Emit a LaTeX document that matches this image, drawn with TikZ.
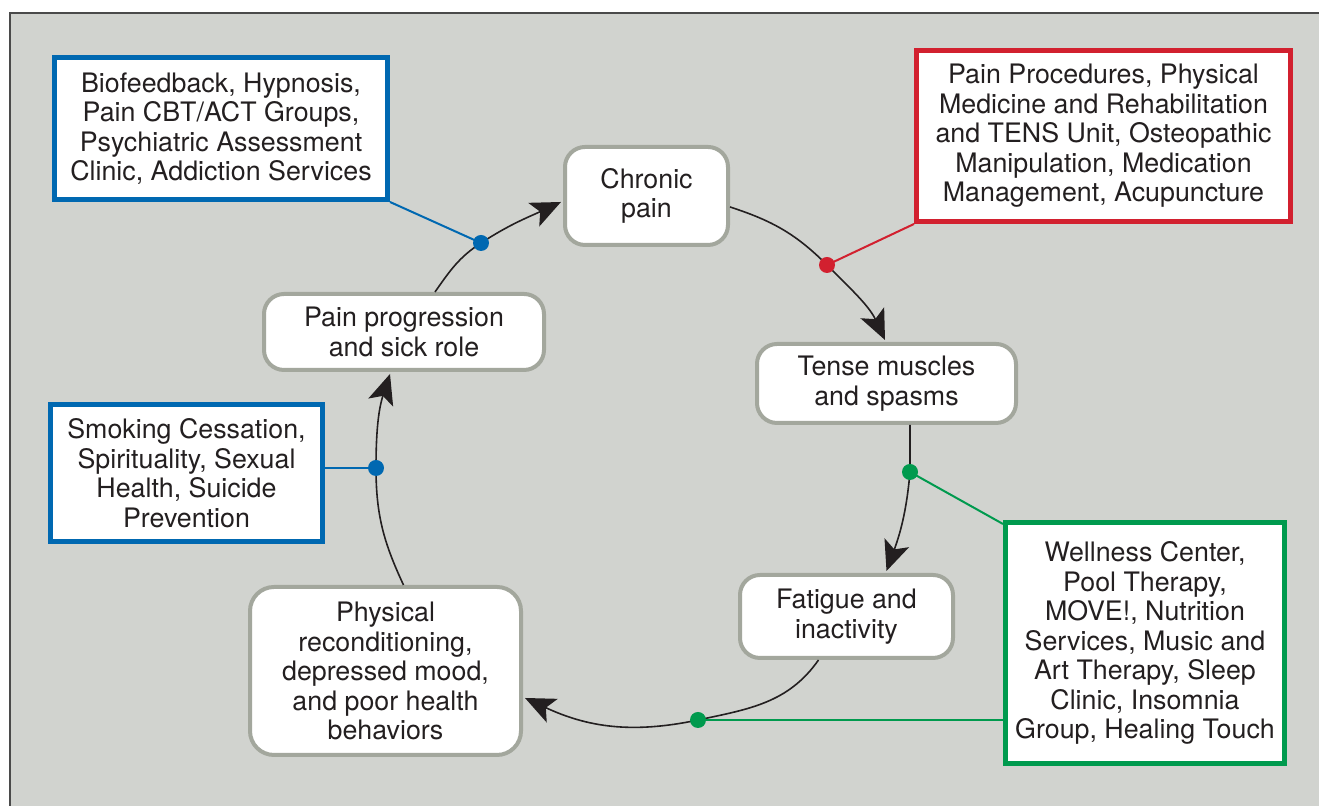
\documentclass[tikz,border=0pt]{standalone}
\usepackage{fontspec}
\setmainfont{TeX Gyre Heros}
\usetikzlibrary{arrows.meta,calc}
\definecolor{bg}{HTML}{D1D3CF}
\definecolor{bord}{HTML}{A3A79D}
\definecolor{frameline}{HTML}{4A4A4A}
\definecolor{vablue}{HTML}{0068B1}
\definecolor{vared}{HTML}{D2202F}
\definecolor{vagreen}{HTML}{009A4E}
\definecolor{ink}{HTML}{231F20}
\begin{document}
\begin{tikzpicture}[x=0.5pt,y=0.5pt,
  every node/.style={font=\fontsize{13.4pt}{14.75pt}\selectfont, text=ink, align=center, inner sep=0pt},
  stage/.style={draw=bord, line width=2pt, fill=white, rounded corners=10pt},
  info/.style={draw=#1, line width=2.5pt, fill=white},
  conn/.style={draw=ink, line width=0.8pt},
  arr/.style={conn, -{Stealth[length=15pt,width=13pt,inset=3.5pt]}},
  link/.style={line width=1pt, draw=#1},
  dot/.style={fill=#1}
]
\useasboundingbox (0,0) rectangle (1319,806);
\fill[bg] (10,0) rectangle (1319,793);
\draw[frameline, line width=0.7pt] (10,0) -- (10,793) -- (1319,793);

% stage nodes
\node[stage, minimum width=81.5pt, minimum height=49pt] (cp) at (646.5,610) {Chronic\\pain};
\node[stage, minimum width=129.5pt, minimum height=39.5pt] (tm) at (886.5,422.5) {Tense muscles\\and spasms};
\node[stage, minimum width=106.5pt, minimum height=41.5pt] (fa) at (846.5,189.5) {Fatigue and\\inactivity};
\node[stage, minimum width=135.5pt, minimum height=84pt, rounded corners=12pt] (pr) at (385.5,135) {Physical\\reconditioning,\\depressed mood,\\and poor health\\behaviors};
\node[stage, minimum width=140pt, minimum height=38pt] (pp) at (404,474) {Pain progression\\and sick role};

% info boxes
\node[info=vablue, minimum width=166.5pt, minimum height=71pt] (b1) at (221,677.5) {Biofeedback, Hypnosis,\\Pain CBT/ACT Groups,\\Psychiatric Assessment\\Clinic, Addiction Services};
\node[info=vared, minimum width=187pt, minimum height=85.5pt] (rd) at (1103.5,670) {Pain Procedures, Physical\\Medicine and Rehabilitation\\and TENS Unit, Osteopathic\\Manipulation, Medication\\Management, Acupuncture};
\node[info=vablue, minimum width=136pt, minimum height=68.5pt] (b2) at (186.5,333) {Smoking Cessation,\\Spirituality, Sexual\\Health, Suicide\\Prevention};
\node[info=vagreen, minimum width=139.5pt, minimum height=120.5pt] (gr) at (1145,163) {Wellness Center,\\Pool Therapy,\\MOVE!, Nutrition\\Services, Music and\\Art Therapy, Sleep\\Clinic, Insomnia\\Group, Healing Touch};

% junction points
\coordinate (d1) at (481,563);
\coordinate (d2) at (827,541);
\coordinate (d3) at (910,334);
\coordinate (d4) at (698,86);
\coordinate (d5) at (376,338);

% cycle connectors
\draw[arr] ($(cp.east)+(0,-11)$) to[out=-18,in=135] (d2) to[out=-45,in=115] ($(tm.north)+(-1.5,2)$);
\draw[arr] ($(tm.south)+(23.5,0)$) to[out=-90,in=90] (d3) to[out=-95,in=70] ($(fa.north)+(40,2)$);
\draw[arr] ($(fa.south)+(-28,0)$) to[out=-125,in=12] (d4) to[out=192,in=-25] ($(pr.east)+(2,-27)$);
\draw[arr] ($(pr.north)+(18,0)$) to[out=115,in=-90] (d5) to[out=90,in=-108] ($(pp.south)+(-14,-2)$);
\draw[arr] ($(pp.north)+(31,0)$) to[out=55,in=-147] (d1) to[out=33,in=-155] ($(cp.west)+(-2,-6)$);

% links to info boxes
\draw[link=vablue] (d1) -- (b1.south east);
\draw[link=vared] (d2) -- (rd.south west);
\draw[link=vagreen] (d3) -- ($(gr.north west)+(0,-4)$);
\draw[link=vagreen] (d4) -- (d4 -| gr.west);
\draw[link=vablue] (d5) -- (d5 -| b2.east);

% dots
\fill[dot=vablue] (d1) circle (4pt);
\fill[dot=vared] (d2) circle (4pt);
\fill[dot=vagreen] (d3) circle (4pt);
\fill[dot=vagreen] (d4) circle (4pt);
\fill[dot=vablue] (d5) circle (4pt);
\end{tikzpicture}
\end{document}
